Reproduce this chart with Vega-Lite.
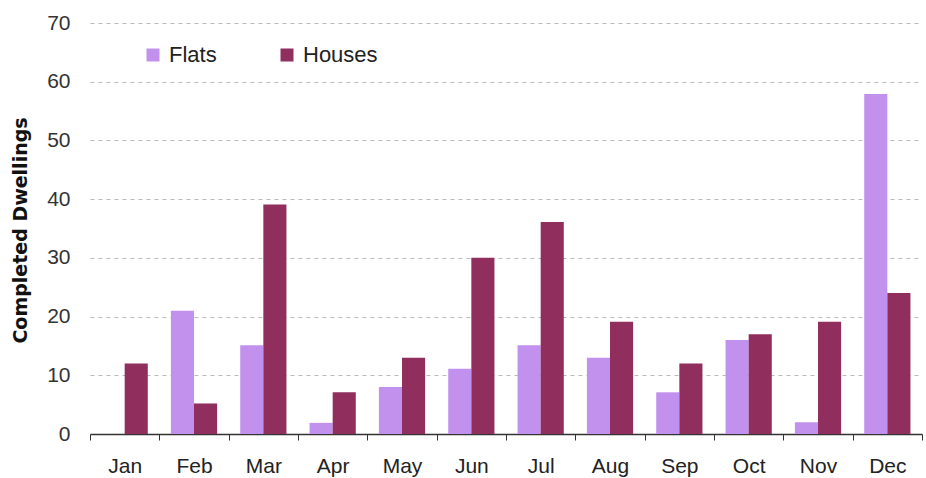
{
  "$schema": "https://vega.github.io/schema/vega-lite/v6.json",
  "autosize": {"type": "none"},
  "width": 832,
  "height": 411,
  "padding": {"left": 90, "top": 23, "right": 4, "bottom": 44},
  "background": "white",
  "config": {
    "view": {"stroke": null},
    "font": "Liberation Sans"
  },
  "data": {
    "values": [
      {"month": "Jan", "type": "Flats", "value": 0},
      {"month": "Jan", "type": "Houses", "value": 12},
      {"month": "Feb", "type": "Flats", "value": 21},
      {"month": "Feb", "type": "Houses", "value": 5.2},
      {"month": "Mar", "type": "Flats", "value": 15.1},
      {"month": "Mar", "type": "Houses", "value": 39.1},
      {"month": "Apr", "type": "Flats", "value": 1.9},
      {"month": "Apr", "type": "Houses", "value": 7.1},
      {"month": "May", "type": "Flats", "value": 8},
      {"month": "May", "type": "Houses", "value": 13},
      {"month": "Jun", "type": "Flats", "value": 11.1},
      {"month": "Jun", "type": "Houses", "value": 30},
      {"month": "Jul", "type": "Flats", "value": 15.1},
      {"month": "Jul", "type": "Houses", "value": 36.1},
      {"month": "Aug", "type": "Flats", "value": 13},
      {"month": "Aug", "type": "Houses", "value": 19.1},
      {"month": "Sep", "type": "Flats", "value": 7.1},
      {"month": "Sep", "type": "Houses", "value": 12},
      {"month": "Oct", "type": "Flats", "value": 16},
      {"month": "Oct", "type": "Houses", "value": 17},
      {"month": "Nov", "type": "Flats", "value": 2},
      {"month": "Nov", "type": "Houses", "value": 19.1},
      {"month": "Dec", "type": "Flats", "value": 57.9},
      {"month": "Dec", "type": "Houses", "value": 24}
    ]
  },
  "mark": {"type": "bar"},
  "encoding": {
    "x": {
      "field": "month",
      "type": "nominal",
      "sort": ["Jan","Feb","Mar","Apr","May","Jun","Jul","Aug","Sep","Oct","Nov","Dec"],
      "scale": {"paddingInner": 0, "paddingOuter": 0},
      "axis": {
        "title": null,
        "labelAngle": 0,
        "labelFontSize": 21,
        "labelColor": "#222",
        "labelPadding": 15,
        "tickBand": "extent",
        "tickSize": 6,
        "tickColor": "#333",
        "domainColor": "#333",
        "domainWidth": 1.5,
        "grid": false
      }
    },
    "xOffset": {
      "field": "type",
      "type": "nominal",
      "sort": ["Flats", "Houses"],
      "scale": {"paddingInner": 0, "paddingOuter": 0.5}
    },
    "y": {
      "field": "value",
      "type": "quantitative",
      "scale": {"domain": [0, 70], "nice": false},
      "axis": {
        "title": "Completed Dwellings",
        "titleFontSize": 19,
        "titleFont": "DejaVu Sans",
        "titleFontWeight": "bold",
        "titleColor": "#111",
        "titleX": -70,
        "titleY": 207,
        "titleAlign": "center",
        "titleBaseline": "middle",
        "values": [0, 10, 20, 30, 40, 50, 60, 70],
        "labelFontSize": 21,
        "labelColor": "#333",
        "labelPadding": 20,
        "domain": false,
        "ticks": false,
        "grid": true,
        "gridDash": [4, 4],
        "gridColor": "#bbbbbb",
        "gridWidth": 1
      }
    },
    "color": {
      "field": "type",
      "type": "nominal",
      "sort": ["Flats", "Houses"],
      "scale": {"domain": ["Flats", "Houses"], "range": ["#c291ee", "#902f5e"]},
      "legend": {
        "title": null,
        "orient": "none",
        "legendX": 52,
        "legendY": 21,
        "direction": "horizontal",
        "symbolType": "square",
        "symbolSize": 169,
        "symbolStrokeWidth": 0,
        "labelFontSize": 22,
        "labelColor": "#222",
        "labelOffset": 5,
        "columnPadding": 59
      }
    }
  }
}
